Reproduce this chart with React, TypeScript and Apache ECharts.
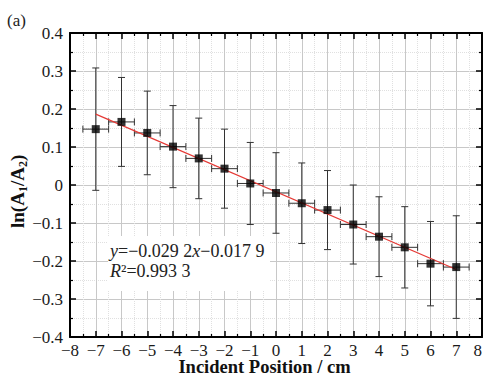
import React, { useEffect, useRef } from "react";
import * as echarts from "echarts";

const xPositions = [-7, -6, -5, -4, -3, -2, -1, 0, 1, 2, 3, 4, 5, 6, 7];
const lnRatio = [0.147, 0.166, 0.137, 0.101, 0.07, 0.043, 0.004, -0.021, -0.048, -0.066, -0.104, -0.136, -0.164, -0.207, -0.216];
const yErrors = [0.161, 0.117, 0.11, 0.108, 0.106, 0.104, 0.108, 0.106, 0.106, 0.104, 0.104, 0.105, 0.107, 0.111, 0.135];
const xErrors = [0.5, 0.5, 0.5, 0.5, 0.5, 0.5, 0.5, 0.5, 0.5, 0.5, 0.5, 0.5, 0.5, 0.5, 0.5];
const fitSlope = -0.0292;
const fitIntercept = -0.0179;
const fitRange = [-7, 7];

const FONT = "Times New Roman, Liberation Serif, serif";

const fmt = (v: number, digits: number) => {
  if (Math.abs(v) < 1e-9) return "0";
  const s = String(Number(v.toFixed(digits)));
  return s.replace("-", "\u2212");
};

export default function App() {
  const ref = useRef<HTMLDivElement>(null);
  useEffect(() => {
    if (!ref.current) return;
    const chart = echarts.init(ref.current, null, { renderer: "svg" });
    const pts = xPositions.map((x, i) => [x, lnRatio[i], yErrors[i], xErrors[i]]);
    const fitData = fitRange.map((x) => [x, fitSlope * x + fitIntercept]);

    const tickCommon = {
      axisTick: { show: true, inside: true, length: 6, lineStyle: { color: "#000", width: 1.5 } },
      minorTick: { show: true, splitNumber: 2, length: 3, lineStyle: { color: "#000", width: 1.2 } },
      axisLine: { show: true, onZero: false, lineStyle: { color: "#000", width: 2 } },
    };

    const option: any = {
      animation: false,
      backgroundColor: "#fff",
      textStyle: { fontFamily: FONT },
      grid: { left: 70, right: 1, top: 33, bottom: 39, containLabel: false, outerBoundsMode: "none" },
      xAxis: [
        {
          type: "value",
          min: -8,
          max: 8,
          interval: 1,
          position: "bottom",
          ...tickCommon,
          splitLine: { show: true, lineStyle: { color: "#c8c8c8", width: 1 } },
          minorSplitLine: { show: true, lineStyle: { color: "#e0e0e0", width: 1, type: "dotted" } },
          axisLabel: {
            margin: 6,
            fontFamily: FONT,
            fontSize: 17,
            lineHeight: 14,
            color: "#1a1a1a",
            alignMaxLabel: "right",
            formatter: (v: number) => fmt(v, 0),
          },
          name: "Incident Position / cm",
          nameLocation: "middle",
          nameGap: 22,
          nameMoveOverlap: false,
          nameTextStyle: {
            fontFamily: FONT,
            fontWeight: "bold",
            fontSize: 18.5,
            lineHeight: 16,
            color: "#111",
            padding: [0, 23, 0, 0],
          },
        },
        {
          type: "value",
          min: -8,
          max: 8,
          interval: 1,
          position: "top",
          ...tickCommon,
          splitLine: { show: false },
          axisLabel: { show: false },
        },
      ],
      yAxis: [
        {
          type: "value",
          min: -0.4,
          max: 0.4,
          interval: 0.1,
          position: "left",
          ...tickCommon,
          splitLine: { show: true, lineStyle: { color: "#c8c8c8", width: 1 } },
          minorSplitLine: { show: true, lineStyle: { color: "#e0e0e0", width: 1, type: "dotted" } },
          axisLabel: {
            margin: 7,
            fontFamily: FONT,
            fontSize: 17,
            color: "#1a1a1a",
            formatter: (v: number) => fmt(v, 1),
          },
        },
        {
          type: "value",
          min: -0.4,
          max: 0.4,
          interval: 0.1,
          position: "right",
          ...tickCommon,
          splitLine: { show: false },
          axisLabel: { show: false },
        },
      ],
      graphic: [
        {
          type: "text",
          left: 7,
          top: 12,
          style: { text: "(a)", fontFamily: FONT, fontSize: 17, fill: "#222" },
        },
        {
          type: "text",
          x: 17,
          y: 228,
          rotation: Math.PI / 2,
          style: {
            text: "{n|ln(A}{s|1}{n|/A}{s|2}{n|)}",
            align: "left",
            verticalAlign: "middle",
            rich: {
              n: { fontFamily: FONT, fontWeight: "bold", fontSize: 19, lineHeight: 24, fill: "#111" },
              s: { fontFamily: FONT, fontWeight: "bold", fontSize: 12, lineHeight: 12, verticalAlign: "bottom", fill: "#111" },
            },
          },
        },
        {
          type: "rect",
          shape: { x: 108, y: 236, width: 162, height: 55 },
          style: { fill: "#fff" },
          z: 50,
        },
        {
          type: "text",
          x: 110,
          y: 241,
          z: 51,
          style: {
            text: "{i|y}{n|=\u22120.029 2}{i|x}{n|\u22120.017 9}\n{i|R}{n|\u00b2=0.993 3}",
            rich: {
              i: { fontFamily: FONT, fontStyle: "italic", fontSize: 18, lineHeight: 20, fill: "#222" },
              n: { fontFamily: FONT, fontSize: 18, lineHeight: 20, fill: "#222" },
            },
          },
        },
      ],
      series: [
        {
          type: "custom",
          xAxisIndex: 0,
          yAxisIndex: 0,
          z: 3,
          data: pts,
          encode: { x: 0, y: 1 },
          renderItem: (params: any, api: any) => {
            const x = api.value(0);
            const y = api.value(1);
            const ey = api.value(2);
            const ex = api.value(3);
            const top = api.coord([x, y + ey]);
            const bot = api.coord([x, y - ey]);
            const lft = api.coord([x - ex, y]);
            const rgt = api.coord([x + ex, y]);
            const cap = 3.5;
            const st = { stroke: "#333", lineWidth: 1 };
            return {
              type: "group",
              children: [
                { type: "line", shape: { x1: top[0], y1: top[1], x2: bot[0], y2: bot[1] }, style: st },
                { type: "line", shape: { x1: top[0] - cap, y1: top[1], x2: top[0] + cap, y2: top[1] }, style: st },
                { type: "line", shape: { x1: bot[0] - cap, y1: bot[1], x2: bot[0] + cap, y2: bot[1] }, style: st },
                { type: "line", shape: { x1: lft[0], y1: lft[1], x2: rgt[0], y2: rgt[1] }, style: st },
                { type: "line", shape: { x1: lft[0], y1: lft[1] - cap, x2: lft[0], y2: lft[1] + cap }, style: st },
                { type: "line", shape: { x1: rgt[0], y1: rgt[1] - cap, x2: rgt[0], y2: rgt[1] + cap }, style: st },
              ],
            };
          },
        },
        {
          type: "line",
          xAxisIndex: 0,
          yAxisIndex: 0,
          z: 4,
          data: fitData,
          showSymbol: false,
          lineStyle: { color: "#e53935", width: 1.2 },
        },
        {
          type: "scatter",
          xAxisIndex: 0,
          yAxisIndex: 0,
          z: 5,
          data: pts.map((p) => [p[0], p[1]]),
          symbol: "rect",
          symbolSize: 8,
          itemStyle: { color: "#000" },
        },
      ],
    };
    chart.setOption(option);
    return () => chart.dispose();
  }, []);
  return (
    <div
      ref={ref}
      style={{ position: "fixed", left: 0, top: 0, width: 483, height: 376, background: "#fff" }}
    />
  );
}
